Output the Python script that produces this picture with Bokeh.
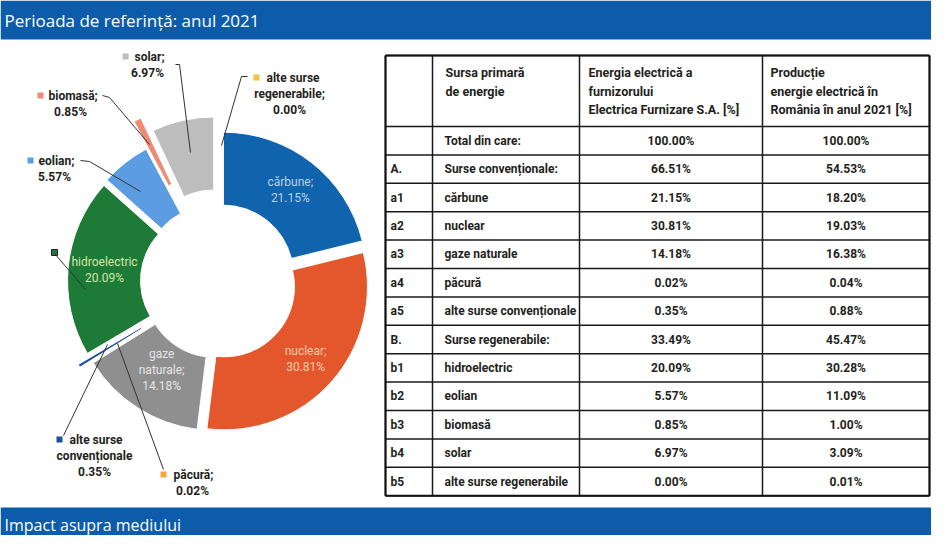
import numpy as np
from bokeh.plotting import figure
from bokeh.models import Range1d
from bokeh.core.properties import value
from bokeh.embed import file_html
from bokeh.resources import INLINE

# ---------------- data ----------------
title_text = "Perioada de referință: anul 2021"
footer_text = "Impact asupra mediului"

source_codes = ["a1", "a2", "a3", "a4", "a5", "b1", "b2", "b3", "b4", "b5"]
source_names = ["cărbune", "nuclear", "gaze naturale", "păcură", "alte surse convenționale",
                "hidroelectric", "eolian", "biomasă", "solar", "alte surse regenerabile"]
supplier_pct = [21.15, 30.81, 14.18, 0.02, 0.35, 20.09, 5.57, 0.85, 6.97, 0.00]
romania_pct = [18.20, 19.03, 16.38, 0.04, 0.88, 30.28, 11.09, 1.00, 3.09, 0.01]

group_codes = ["A.", "B."]
group_names = ["Surse convenționale:", "Surse regenerabile:"]
group_supplier_pct = [66.51, 33.49]
group_romania_pct = [54.53, 45.47]

total_name = "Total din care:"
total_supplier_pct = 100.00
total_romania_pct = 100.00

header_col2 = ["Sursa primară", "de energie"]
header_col3 = ["Energia electrică a", "furnizorului", "Electrica Furnizare S.A. [%]"]
header_col4 = ["Producție", "energie electrică în", "România în anul 2021 [%]"]

# label name lines used in the donut (value line appended from supplier_pct)
donut_label_names = [["cărbune;"], ["nuclear;"], ["gaze", "naturale;"], ["păcură;"],
                     ["alte surse", "convenționale"], ["hidroelectric"], ["eolian;"],
                     ["biomasă;"], ["solar;"], ["alte surse", "regenerabile;"]]

# ---------------- styles ----------------
slice_colors = ["#1063ad", "#e4572c", "#8f8f8f", "#f2a93b", "#1d4f9a",
                "#1e7a37", "#5b9de0", "#ef8b74", "#bdbdbd", "#f4c142"]
explode_px = [8, 8, 7, 20, 20, 8, 8, 38, 22, 0]
inside_label = [True, True, True, False, False, True, False, False, False, False]
inside_label_dr = [2, 2, -8, 0, 0, 0, 0, 0, 0, 0]
inside_color = ["#bcd0e6", "#f6cba6", "#e6e6e6", None, None, "#d3e6a6", None, None, None, None]

# outside label anchors (square marker pos, first line left x, value center x)
outside_layout = {
    3: dict(sq=(171, 482), tx=181, cx=200, y0=482),
    4: dict(sq=(67, 447), tx=77, cx=102, y0=447),
    6: dict(sq=(38, 168), tx=46, cx=62, y0=168),
    7: dict(sq=(48, 103), tx=56, cx=78, y0=103),
    8: dict(sq=(133, 64), tx=142, cx=155, y0=64),
    9: dict(sq=(264, 85), tx=274, cx=297, y0=85),
}
leaders = {
    3: [(171, 477), (125, 351)],
    4: [(71, 443), (115, 352)],
    5: [(62, 261), (93, 297)],
    6: [(88, 168), (97, 169), (148, 199)],
    7: [(110, 103), (117, 105), (157, 152)],
    8: [(183, 72), (187, 72), (198, 160)],
    9: [(255, 84), (249, 84), (229, 153)],
}

FONT = "Roboto"
BAND_FONT = "Open Sans"
BLUE_BAND = "#0c5cab"
INK = "#231f20"

W, H = 931, 535
p = figure(width=W, height=H, x_range=Range1d(8, 8 + W), y_range=Range1d(8 + H, 8),
           output_backend="svg", toolbar_location=None, min_border=0,
           x_axis_location=None, y_axis_location=None)
p.grid.visible = False
p.outline_line_color = None
p.background_fill_color = "white"
p.border_fill_color = "white"

# ---------------- bands ----------------
p.quad(left=[8, 8], right=[8 + W, 8 + W], top=[8, 515], bottom=[47, 8 + H],
       fill_color=BLUE_BAND, line_color=None)
p.text(x=[12], y=[28], text=[title_text], text_color="white",
       text_font=value(BAND_FONT), text_font_size=value("17px"),
       text_baseline="middle", text_align="left")
p.text(x=[12], y=[532], text=[footer_text], text_color="white",
       text_font=value(BAND_FONT), text_font_size=value("16px"),
       text_baseline="middle", text_align="left")

# ---------------- donut ----------------
CX, CY, R_OUT, R_IN = 226, 289, 143, 70
vals = np.array(supplier_pct)
cum = np.concatenate([[0], np.cumsum(vals)]) / vals.sum() * 2 * np.pi  # clockwise from top
xs, ys, sa, ea, cols = [], [], [], [], []
mids = []
for i, v in enumerate(vals):
    a0, a1 = cum[i], cum[i + 1]
    mid = (a0 + a1) / 2
    mids.append(mid)
    if v <= 0:
        continue
    d = explode_px[i]
    xs.append(CX + d * np.sin(mid))
    ys.append(CY - d * np.cos(mid))
    sa.append(np.pi / 2 - a1)
    ea.append(np.pi / 2 - a0)
    cols.append(slice_colors[i])
p.annular_wedge(x=xs, y=ys, inner_radius=R_IN, outer_radius=R_OUT, start_angle=sa,
                end_angle=ea, direction="anticlock", fill_color=cols, line_color="white",
                line_width=1)

# inside labels
for i, v in enumerate(vals):
    if not inside_label[i]:
        continue
    lines = donut_label_names[i] + [f"{v:.2f}%"]
    rr = (R_OUT + R_IN) / 2 + explode_px[i] + inside_label_dr[i]
    lx = CX + rr * np.sin(mids[i])
    ly = CY - rr * np.cos(mids[i])
    n = len(lines)
    yy = [ly + (k - (n - 1) / 2) * 16 for k in range(n)]
    p.text(x=[lx] * n, y=yy, text=lines, text_color=inside_color[i],
           text_font=value(FONT), text_font_size=value("12px"),
           text_align="center", text_baseline="middle")

# outside labels
for i, lay in outside_layout.items():
    names = donut_label_names[i]
    p.scatter(x=[lay["sq"][0]], y=[lay["sq"][1]], marker="square", size=6,
              fill_color=slice_colors[i], line_color=None)
    p.text(x=[lay["tx"]], y=[lay["y0"]], text=[names[0]], text_color=INK,
           text_font=value(FONT), text_font_size=value("12px"), text_font_style="bold",
           text_align="left", text_baseline="middle")
    rest = names[1:] + [f"{supplier_pct[i]:.2f}%"]
    p.text(x=[lay["cx"]] * len(rest), y=[lay["y0"] + 16 * (k + 1) for k in range(len(rest))],
           text=rest, text_color=INK, text_font=value(FONT), text_font_size=value("12px"),
           text_font_style="bold", text_align="center", text_baseline="middle")
# hidroelectric square
p.scatter(x=[62], y=[260], marker="square", size=6, fill_color=slice_colors[5],
          line_color=INK, line_width=1)
p.multi_line(xs=[[pt[0] for pt in L] for L in leaders.values()],
             ys=[[pt[1] for pt in L] for L in leaders.values()],
             line_color="#333333", line_width=1)

# ---------------- table ----------------
col_x = [393, 440, 587, 770, 937]
top_y, head_y, row_h = 63, 134, 28.4
row_codes = [""] + [group_codes[0]] + source_codes[:5] + [group_codes[1]] + source_codes[5:]
row_names = [total_name] + [group_names[0]] + source_names[:5] + [group_names[1]] + source_names[5:]
row_sup = [total_supplier_pct, group_supplier_pct[0]] + supplier_pct[:5] + [group_supplier_pct[1]] + supplier_pct[5:]
row_rom = [total_romania_pct, group_romania_pct[0]] + romania_pct[:5] + [group_romania_pct[1]] + romania_pct[5:]
n_rows = len(row_codes)
bottom_y = head_y + n_rows * row_h
h_lines = [top_y, head_y] + [head_y + row_h * k for k in range(1, n_rows + 1)]

p.segment(x0=[col_x[0]] * len(h_lines), x1=[col_x[-1]] * len(h_lines), y0=h_lines, y1=h_lines,
          line_color="#1a1a1a", line_width=1.5)
p.segment(x0=col_x, x1=col_x, y0=[top_y] * len(col_x), y1=[bottom_y] * len(col_x),
          line_color="#1a1a1a", line_width=1.5)
p.segment(x0=[col_x[0], col_x[-1], col_x[0], col_x[0]], x1=[col_x[0], col_x[-1], col_x[-1], col_x[-1]],
          y0=[top_y, top_y, top_y, bottom_y], y1=[bottom_y, bottom_y, top_y, bottom_y],
          line_color="#111111", line_width=2)

TFS = value("12px")
# headers
for lines, x in [(header_col2, col_x[1] + 13), (header_col3, col_x[2] + 9), (header_col4, col_x[3] + 8)]:
    p.text(x=[x] * len(lines), y=[80 + 18.5 * k for k in range(len(lines))], text=lines,
           text_color=INK, text_font=value(FONT), text_font_size=value("12.5px"), text_font_style="bold",
           text_align="left", text_baseline="middle")
row_cy = [head_y + row_h * (k + 0.5) for k in range(n_rows)]
p.text(x=[col_x[0] + 5] * n_rows, y=row_cy, text=row_codes, text_color=INK,
       text_font=value(FONT), text_font_size=TFS, text_font_style="bold",
       text_align="left", text_baseline="middle")
p.text(x=[col_x[1] + 12] * n_rows, y=row_cy, text=row_names, text_color=INK,
       text_font=value(FONT), text_font_size=TFS, text_font_style="bold",
       text_align="left", text_baseline="middle")
p.text(x=[(col_x[2] + col_x[3]) / 2] * n_rows, y=row_cy, text=[f"{v:.2f}%" for v in row_sup],
       text_color=INK, text_font=value(FONT), text_font_size=TFS, text_font_style="bold",
       text_align="center", text_baseline="middle")
p.text(x=[(col_x[3] + col_x[4]) / 2] * n_rows, y=row_cy, text=[f"{v:.2f}%" for v in row_rom],
       text_color=INK, text_font=value(FONT), text_font_size=TFS, text_font_style="bold",
       text_align="center", text_baseline="middle")

open("out.html", "w").write(file_html(p, INLINE))
